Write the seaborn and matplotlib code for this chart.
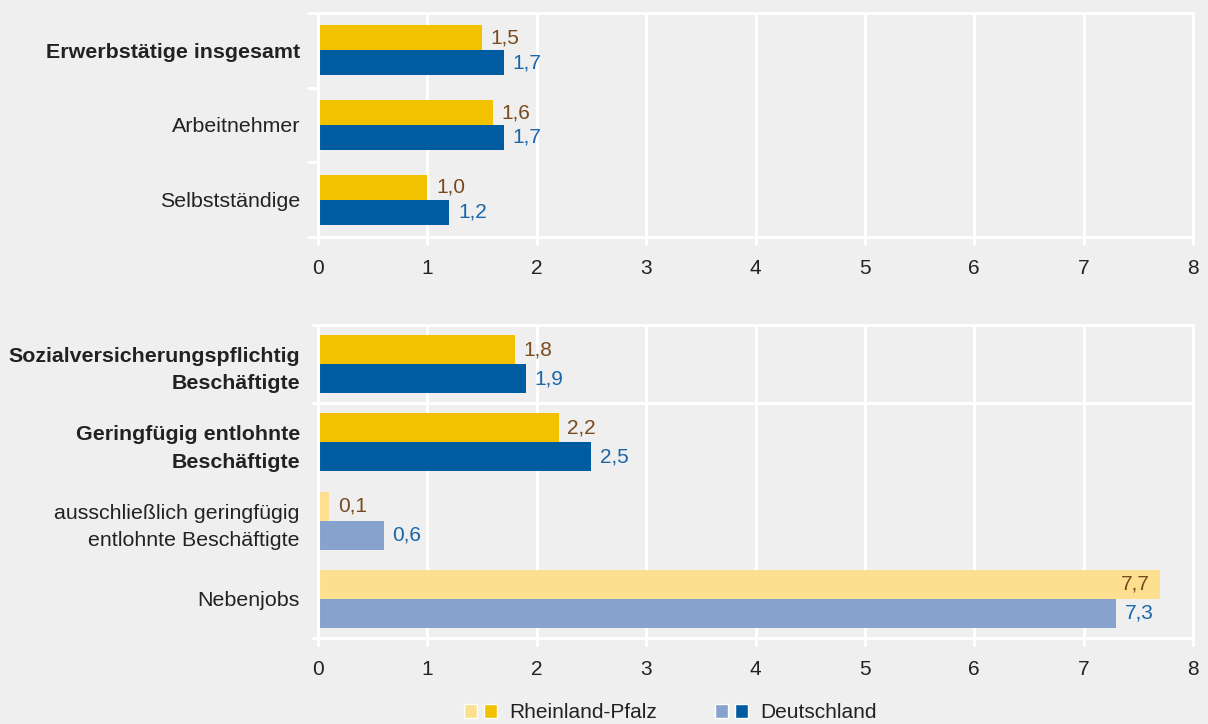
import numpy as np
import pandas as pd
import matplotlib
matplotlib.use('Agg')
import matplotlib.pyplot as plt
import seaborn as sns
from matplotlib.patches import Patch
from matplotlib.legend_handler import HandlerTuple

# Werte (Veränderung in %)
top_categories = ["Erwerbstätige insgesamt", "Arbeitnehmer", "Selbstständige"]
top_bold = [True, False, False]
top_dark = [True, True, True]
top_rp = [1.5, 1.6, 1.0]
top_de = [1.7, 1.7, 1.2]

bottom_categories = ["Sozialversicherungspflichtig\nBeschäftigte",
                     "Geringfügig entlohnte\nBeschäftigte",
                     "ausschließlich geringfügig\nentlohnte Beschäftigte",
                     "Nebenjobs"]
bottom_bold = [True, True, False, False]
bottom_dark = [True, True, False, False]
bottom_rp = [1.8, 2.2, 0.1, 7.7]
bottom_de = [1.9, 2.5, 0.6, 7.3]

regions = ["Rheinland-Pfalz", "Deutschland"]
x_ticks = [0, 1, 2, 3, 4, 5, 6, 7, 8]

BG = "#eeefee"
C_RP = "#f2c200"
C_RP_LIGHT = "#fde08f"
C_DE = "#005ca1"
C_DE_LIGHT = "#87a3cd"
TXT_RP = "#7a4a1e"
TXT_DE = "#1a66a8"
TXT = "#222222"
FS = 15

sns.set_theme(style="white")
plt.rcParams['font.family'] = ['Liberation Sans', 'DejaVu Sans']
plt.rcParams['font.size'] = FS


def to_long(cats, rp, de):
    return pd.DataFrame({
        "Kategorie": cats * 2,
        "Wert": rp + de,
        "Region": [regions[0]] * len(cats) + [regions[1]] * len(cats),
    })


def draw_panel(ax, cats, bold, dark, rp, de, width):
    df = to_long(cats, rp, de)
    sns.barplot(data=df, x="Wert", y="Kategorie", hue="Region", hue_order=regions,
                order=cats, orient="h", palette=[C_RP, C_DE], width=width,
                legend=False, ax=ax, saturation=1, edgecolor="none")
    n = len(cats)
    bars = list(ax.patches)
    for i, p in enumerate(bars):
        region = i // n
        cat = i % n
        if region == 0:
            p.set_facecolor(C_RP if dark[cat] else C_RP_LIGHT)
            tc = TXT_RP
        else:
            p.set_facecolor(C_DE if dark[cat] else C_DE_LIGHT)
            tc = TXT_DE
        v = p.get_width()
        yc = p.get_y() + p.get_height() / 2
        label = f"{v:.1f}".replace(".", ",")
        if v > 7.5:
            ax.text(v - 0.1, yc, label, ha="right", va="center", color=tc, fontsize=FS)
        else:
            ax.text(v + 0.08, yc, label, ha="left", va="center", color=tc, fontsize=FS)

    ax.set_facecolor(BG)
    ax.set_xlim(0, 8)
    ax.set_ylim(n - 0.5, -0.5)
    ax.set_xticks(x_ticks)
    ax.set_xticklabels([str(t) for t in x_ticks])
    ax.set_xlabel("")
    ax.set_ylabel("")
    ax.grid(axis="x", color="white", linewidth=2.2)
    ax.set_axisbelow(True)
    for s in ax.spines.values():
        s.set_visible(True)
        s.set_color("white")
        s.set_linewidth(2.2)
    ax.tick_params(axis="x", colors="white", length=6, width=2.2, pad=10,
                   labelcolor=TXT, labelsize=FS, bottom=True)
    ax.tick_params(axis="y", which="major", length=0, pad=13, labelcolor=TXT, labelsize=15.4)
    for lab, b in zip(ax.get_yticklabels(), bold):
        lab.set_fontweight("bold" if b else "normal")
        lab.set_linespacing(1.55)


fig = plt.figure(figsize=(12.08, 7.24), dpi=100, facecolor=BG)

ax1 = fig.add_axes([318 / 1208, 1 - 237 / 724, 875 / 1208, 224 / 724])
draw_panel(ax1, top_categories, top_bold, top_dark, top_rp, top_de, width=0.667)
ax1.set_yticks(np.arange(-0.5, len(top_categories), 1.0), minor=True)
ax1.tick_params(axis="y", which="minor", left=True, length=8, width=2.2, color="white")

ax2 = fig.add_axes([318 / 1208, 1 - 638 / 724, 875 / 1208, 313 / 724])
draw_panel(ax2, bottom_categories, bottom_bold, bottom_dark, bottom_rp, bottom_de, width=0.74)
ax2.axhline(0.5, color="white", linewidth=2.2, xmin=-0.006, clip_on=False)
ax2.set_yticks([-0.5, 0.5, 3.5], minor=True)
ax2.tick_params(axis="y", which="minor", left=True, length=4, width=2.2, color="white")

handles = [
    (Patch(facecolor=C_RP_LIGHT), Patch(facecolor=C_RP)),
    (Patch(facecolor=C_DE_LIGHT), Patch(facecolor=C_DE)),
]
fig.legend(handles, regions, handler_map={tuple: HandlerTuple(ndivide=None, pad=0.3)},
           ncol=2, frameon=False, loc="center", bbox_to_anchor=(0.555, 1 - 713 / 724),
           handlelength=1.55, handleheight=0.65, handletextpad=0.6, columnspacing=2.8,
           fontsize=FS, labelcolor=TXT)

fig.savefig("out.png", dpi=100, facecolor=BG)
